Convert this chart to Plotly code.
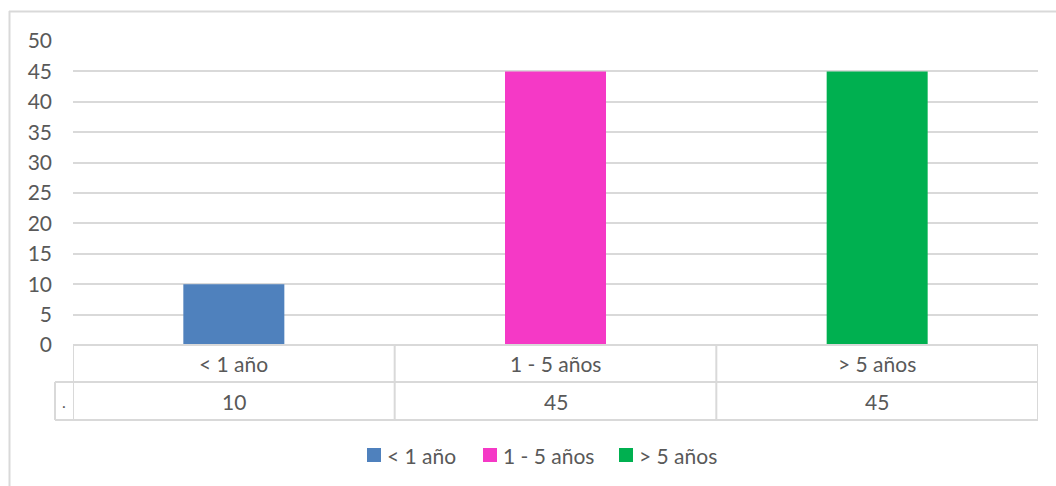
import plotly.graph_objects as go

categories = ["< 1 año", "1 - 5 años", "> 5 años"]
values = [10, 45, 45]
colors = ["#4F81BD", "#F539C6", "#00B050"]
y_ticks = [0, 5, 10, 15, 20, 25, 30, 35, 40, 45, 50]

W, H = 1056, 486
L, R, T, B = 73, 18, 41, 141
plot_h = H - T - B
plot_w = W - L - R
FONT = "Lato"
TXT = "#595959"
GRID = "#D9D9D9"
FS = 21

def py(pix):
    return (H - B - pix) / plot_h

def px(pix):
    return (pix - L) / plot_w

fig = go.Figure()
for i, (c, v) in enumerate(zip(categories, values)):
    fig.add_trace(go.Bar(x=[i], y=[v], name=c, marker_color=colors[i],
                         width=0.314, marker_line_width=0, showlegend=False))

shapes = []
annotations = []
row1_bottom = py(382)
row2_bottom = py(420)
# horizontal table lines
shapes.append(dict(type="line", xref="paper", yref="paper", x0=0, x1=1, y0=0, y1=0,
                   line=dict(color=GRID, width=2)))
shapes.append(dict(type="line", xref="paper", yref="paper", x0=px(55), x1=1, y0=row1_bottom, y1=row1_bottom,
                   line=dict(color=GRID, width=2)))
shapes.append(dict(type="line", xref="paper", yref="paper", x0=px(55), x1=1, y0=row2_bottom, y1=row2_bottom,
                   line=dict(color=GRID, width=2)))
# vertical table lines at category boundaries
n = len(categories)
for k in range(n + 1):
    shapes.append(dict(type="line", xref="x", yref="paper", x0=k - 0.5, x1=k - 0.5,
                       y0=0, y1=row2_bottom, line=dict(color=GRID, width=2)))
# legend-key cell left edge
shapes.append(dict(type="line", xref="paper", yref="paper", x0=px(55), x1=px(55),
                   y0=row1_bottom, y1=row2_bottom, line=dict(color=GRID, width=2)))
# outer chart border (top and left)
shapes.append(dict(type="line", xref="paper", yref="paper", x0=px(9), x1=px(W + 5), y0=py(11.5), y1=py(11.5),
                   line=dict(color=GRID, width=2)))
shapes.append(dict(type="line", xref="paper", yref="paper", x0=px(9.5), x1=px(9.5), y0=py(11), y1=py(H + 5),
                   line=dict(color=GRID, width=2)))

for i, (c, v) in enumerate(zip(categories, values)):
    annotations.append(dict(x=i, xref="x", y=(0 + row1_bottom) / 2, yref="paper", text=c,
                            showarrow=False, font=dict(family=FONT, size=FS, color=TXT),
                            xanchor="center", yanchor="middle"))
    annotations.append(dict(x=i, xref="x", y=(row1_bottom + row2_bottom) / 2, yref="paper", text=str(v),
                            showarrow=False, font=dict(family=FONT, size=FS, color=TXT),
                            xanchor="center", yanchor="middle"))
annotations.append(dict(x=px(64), xref="paper", y=(row1_bottom + row2_bottom) / 2, yref="paper", text=".",
                        showarrow=False, font=dict(family=FONT, size=16, color=TXT),
                        xanchor="center", yanchor="middle"))

# legend (Excel style: small square right next to its label)
legend_sq_left = [367, 483, 619]
for c, col, xl in zip(categories, colors, legend_sq_left):
    shapes.append(dict(type="rect", xref="paper", yref="paper", x0=px(xl), x1=px(xl + 14),
                       y0=py(462), y1=py(448), fillcolor=col, line=dict(width=0)))
    annotations.append(dict(x=px(xl + 18), xref="paper", y=py(455), yref="paper", text=c,
                            showarrow=False, font=dict(family=FONT, size=FS, color=TXT),
                            xanchor="left", yanchor="middle"))

fig.update_layout(
    width=W, height=H,
    margin=dict(l=L, r=R, t=T, b=B, pad=0),
    paper_bgcolor="white", plot_bgcolor="white",
    showlegend=False,
    xaxis=dict(range=[-0.5, n - 0.5], showticklabels=False, showgrid=False, zeroline=False,
               showline=False, ticks=""),
    yaxis=dict(range=[0, 50], tickvals=y_ticks, showgrid=True, gridcolor=GRID, gridwidth=1.5,
               zeroline=False, showline=False, ticks="",
               tickfont=dict(family=FONT, size=FS, color=TXT), ticklabelstandoff=20),
    shapes=shapes,
    annotations=annotations,
    font=dict(family=FONT, color=TXT),
)

fig.write_html("out.html")
